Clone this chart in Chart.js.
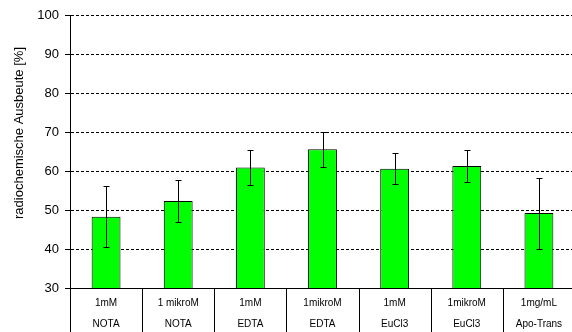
<!DOCTYPE html>
<html>
<head>
<meta charset="utf-8">
<script src="https://cdn.jsdelivr.net/npm/chart.js@4/dist/chart.umd.min.js"></script>
<style>
  html, body { margin: 0; padding: 0; background: #fff; overflow: hidden; }
  canvas { display: block; }
</style>
</head>
<body>
<canvas id="chart" width="575" height="332"></canvas>
<script>
'use strict';

// ── DATA ──
const labelTop    = ['1mM', '1 mikroM', '1mM', '1mikroM', '1mM', '1mikroM', '1mg/mL'];
const labelBottom = ['NOTA', 'NOTA', 'EDTA', 'EDTA', 'EuCl3', 'EuCl3', 'Apo-Trans'];
const yields      = [48.3, 52.3, 60.9, 65.6, 60.6, 61.3, 49.2];
const errors      = [7.9, 5.4, 4.4, 4.5, 4.0, 4.1, 9.1];
const yTitle      = 'radiochemische Ausbeute [%]';

const FONT = 'Arial, "Liberation Sans", sans-serif';

// ── PLUGIN: error bars, category table, y title ──
const extras = {
  id: 'extras',
  afterDatasetsDraw(chart) {
    const ctx = chart.ctx;
    const y = chart.scales.y;
    const meta = chart.getDatasetMeta(0);
    ctx.save();
    ctx.strokeStyle = '#000';
    ctx.lineWidth = 1;
    meta.data.forEach((bar, i) => {
      const x  = Math.round(bar.x) + 0.5;
      const hi = Math.round(y.getPixelForValue(yields[i] + errors[i])) + 0.5;
      const lo = Math.round(y.getPixelForValue(yields[i] - errors[i])) + 0.5;
      ctx.beginPath();
      ctx.moveTo(x, hi); ctx.lineTo(x, lo);
      ctx.moveTo(x - 3, hi); ctx.lineTo(x + 3, hi);
      ctx.moveTo(x - 3, lo); ctx.lineTo(x + 3, lo);
      ctx.stroke();
    });
    ctx.restore();
  },
  afterDraw(chart) {
    const ctx = chart.ctx;
    const x = chart.scales.x;
    const area = chart.chartArea;
    const half = (x.getPixelForValue(1) - x.getPixelForValue(0)) / 2;

    ctx.save();
    // separators below axis
    ctx.strokeStyle = '#000';
    ctx.lineWidth = 1;
    ctx.beginPath();
    for (let i = 0; i <= labelTop.length; i++) {
      const px = Math.round(x.getPixelForValue(i) - half) + 0.5;
      ctx.moveTo(px, area.bottom);
      ctx.lineTo(px, chart.height);
    }
    ctx.stroke();

    // category labels
    ctx.fillStyle = '#000';
    ctx.font = '10px ' + FONT;
    ctx.textAlign = 'center';
    ctx.textBaseline = 'middle';
    labelTop.forEach((t, i) => {
      const px = x.getPixelForValue(i);
      ctx.fillText(t, px, area.bottom + 15);
      ctx.fillText(labelBottom[i], px, area.bottom + 36);
    });

    // y title
    ctx.translate(19, 133);
    ctx.rotate(-Math.PI / 2);
    ctx.font = '13px ' + FONT;
    ctx.fillText(yTitle, 0, 0);
    ctx.restore();
  }
};

// ── CHART ──
new Chart(document.getElementById('chart'), {
  type: 'bar',
  data: {
    labels: labelTop.map((t, i) => [t, labelBottom[i]]),
    datasets: [{
      data: yields,
      backgroundColor: '#00ff00',
      borderColor: '#000',
      borderWidth: 1,
      borderSkipped: 'bottom',
      barPercentage: 0.4,
      categoryPercentage: 1.0,
    }]
  },
  options: {
    responsive: false,
    animation: false,
    devicePixelRatio: 1,
    layout: { padding: { top: 15, right: 0, left: 0, bottom: 0 } },
    plugins: { legend: { display: false }, tooltip: { enabled: false } },
    scales: {
      x: {
        ticks: { display: false },
        grid: { display: false, drawTicks: false },
        border: { display: true, color: '#000', width: 1 },
        afterFit: s => { s.height = 44; },
      },
      y: {
        min: 30,
        max: 100,
        ticks: {
          stepSize: 10,
          color: '#000',
          padding: 6,
          font: { family: FONT, size: 13 },
        },
        grid: {
          color: '#000',
          lineWidth: 1,
          drawTicks: true,
          tickLength: 5,
          tickColor: '#000',
          tickBorderDash: [],
        },
        border: { display: true, color: '#000', width: 1, dash: [3, 2] },
        afterFit: s => { s.width = 70; },
      }
    }
  },
  plugins: [extras]
});
</script>
</body>
</html>
